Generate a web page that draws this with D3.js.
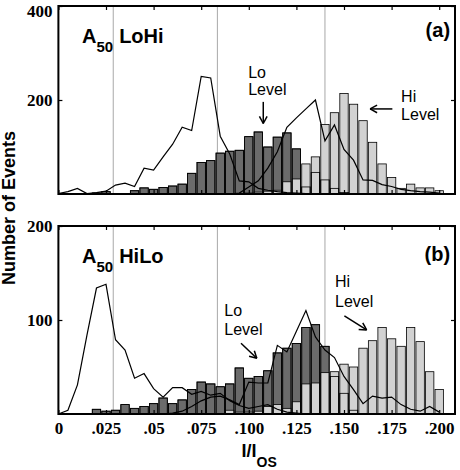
<!DOCTYPE html>
<html><head><meta charset="utf-8">
<script src="https://cdn.jsdelivr.net/npm/d3@7"></script>
<style>body{margin:0;background:#fff} svg{display:block}</style>
</head><body>
<script>
// ---- data ----
const bins = [0.000,0.005,0.010,0.015,0.020,0.025,0.030,0.035,0.040,0.045,
              0.050,0.055,0.060,0.065,0.070,0.075,0.080,0.085,0.090,0.095,
              0.100,0.105,0.110,0.115,0.120,0.125,0.130,0.135,0.140,0.145,
              0.150,0.155,0.160,0.165,0.170,0.175,0.180,0.185,0.190,0.195,0.200];

// panel (a) A50 LoHi
const loHiLoBars  = [0,0,0,0,2,5,0,0,7,13, 10,14,17,21,44,67,71,87,91,93, 122,132,100,121,130,96,15,46,30,12, 3,0,0,0,0,0,0,0,0,0,0];
const loHiHiBars  = [0,0,0,0,0,0,0,0,0,0, 0,0,0,0,0,0,0,0,0,0, 2,4,6,8,26,32,64,79,148,173, 214,191,156,110,64,35,12,21,13,13,7];
const loHiLine1   = [1,5,12,1,3,6,19,23,16,55, 51,79,106,142,135,250,247,123,85,28, 26,12,8,5,3,2,1,0,0,0, 0,0,0,0,0,0,0,0,0,0,0];
const loHiLine2   = [0,0,0,0,0,0,0,0,0,0, 0,0,0,0,0,0,0,0,0,2, 15,28,55,90,142,162,181,200,113,147, 95,72,30,29,20,16,10,7,5,4,2];

// panel (b) A50 HiLo
const hiLoLoBars  = [0,0,0,0,5,3,4,10,6,8, 11,17,11,15,26,34,32,29,32,49, 38,40,46,65,70,75,92,95,72,40, 22,4,0,0,0,0,0,0,0,0,0];
const hiLoHiBars  = [0,0,0,0,0,0,0,0,0,0, 0,0,0,0,0,0,0,0,4,2, 2,3,8,10,6,13,32,33,44,45, 53,50,70,78,92,80,72,92,77,45,26];
const hiLoLine1   = [0,4,31,84,134,138,79,68,38,43, 27,18,28,28,21,24,20,22,14,9, 6,8,10,5,2,1,0,0,0,0, 0,0,0,0,0,0,0,0,0,0,0];
const hiLoLine2   = [0,0,0,0,0,0,0,0,0,0, 0,0,1,3,8,14,18,19,15,10, 34,33,33,73,66,88,110,82,68,60, 40,26,11,19,17,18,10,5,3,8,2];

const refLines    = [0.0288, 0.0835, 0.140];
const xTickValues = [0,0.025,0.05,0.075,0.1,0.125,0.15,0.175,0.2];
const xTickLabels = ["0",".025",".05",".075",".100",".125",".150",".175",".200"];
const aYTicks     = [200,400];
const bYTicks     = [100,200];

// ---- layout ----
const W = 460, H = 470;
const svg = d3.select("body").append("svg").attr("width", W).attr("height", H);
const x = d3.scaleLinear().domain([0, 0.2083]).range([58.4, 455]);
const barW = x(0.0044) - x(0);

const panels = [
  {name:"LoHi", tag:"(a)", yMax:400, top:6, bottom:194, yTicks:aYTicks,
   lo:loHiLoBars, hi:loHiHiBars, lines:[loHiLine1, loHiLine2], showX:false,
   title:{x:0.0124, y:321}, tagPos:{x:0.2057, y:334},
   loText:{x:0.0997, y1:246, y2:210}, loArrow:[0.1076,196,0.1076,150],
   hiText:{x:0.1800, y1:196, y2:157}, hiArrow:[0.1754,181,0.1637,181]},
  {name:"HiLo", tag:"(b)", yMax:200, top:226, bottom:414, yTicks:bYTicks,
   lo:hiLoLoBars, hi:hiLoHiBars, lines:[hiLoLine1, hiLoLine2], showX:true,
   title:{x:0.0124, y:160.6}, tagPos:{x:0.2057, y:162.8},
   loText:{x:0.0871, y1:104, y2:84}, loArrow:[0.0959,75.2,0.1042,59.3],
   hiText:{x:0.1453, y1:134.8, y2:114.1}, hiArrow:[0.1502,104.3,0.1619,89.4]}
];

function arrow(g, x1, y1, x2, y2) {
  g.append("line").attr("x1",x1).attr("y1",y1).attr("x2",x2).attr("y2",y2)
    .attr("stroke","#000").attr("stroke-width",1.5);
  const a = Math.atan2(y2-y1, x2-x1), L = 8, s = 0.5;
  [a+Math.PI-s, a+Math.PI+s].forEach(t=>{
    g.append("line").attr("x1",x2).attr("y1",y2)
      .attr("x2",x2+L*Math.cos(t)).attr("y2",y2+L*Math.sin(t))
      .attr("stroke","#000").attr("stroke-width",1.5);
  });
}

panels.forEach(p => {
  const y = d3.scaleLinear().domain([0, p.yMax]).range([p.bottom, p.top]);
  const g = svg.append("g");

  // reference lines
  g.selectAll(".ref").data(refLines).join("line")
    .attr("x1", d=>x(d)).attr("x2", d=>x(d))
    .attr("y1", p.top).attr("y2", p.bottom)
    .attr("stroke", "#a8a8a8").attr("stroke-width", 1);

  const loData = bins.map((b,i)=>({b, v:p.lo[i]})).filter(d=>d.v>0);
  const hiData = bins.map((b,i)=>({b, v:p.hi[i]})).filter(d=>d.v>0);

  g.selectAll(".lo").data(loData).join("rect")
    .attr("x", d=>x(d.b)-barW/2).attr("width", barW)
    .attr("y", d=>y(d.v)).attr("height", d=>y(0)-y(d.v))
    .attr("fill","#6b6b6b").attr("stroke","#000").attr("stroke-width",0.8);
  g.selectAll(".hi").data(hiData).join("rect")
    .attr("x", d=>x(d.b)-barW/2).attr("width", barW)
    .attr("y", d=>y(d.v)).attr("height", d=>y(0)-y(d.v))
    .attr("fill","#d2d2d2").attr("stroke","#000").attr("stroke-width",0.8);
  g.selectAll(".loOutline").data(loData).join("rect")
    .attr("x", d=>x(d.b)-barW/2).attr("width", barW)
    .attr("y", d=>y(d.v)).attr("height", d=>y(0)-y(d.v))
    .attr("fill","none").attr("stroke","#000").attr("stroke-width",0.8);

  // lines
  const line = d3.line().x((d,i)=>x(bins[i])).y(d=>y(d));
  p.lines.forEach(L=>{
    g.append("path").datum(L).attr("d", line)
      .attr("fill","none").attr("stroke","#000").attr("stroke-width",1.2);
  });

  // axes
  const axL = g.append("g").attr("transform",`translate(${x(0)},0)`)
    .call(d3.axisLeft(y).tickValues(p.yTicks).tickSize(-4).tickPadding(6));
  const axR = g.append("g").attr("transform",`translate(${x.range()[1]},0)`)
    .call(d3.axisRight(y).tickValues(p.yTicks).tickSize(-4).tickFormat(""));
  const axT = g.append("g").attr("transform",`translate(0,${p.top})`)
    .call(d3.axisTop(x).tickValues(xTickValues).tickSize(-4).tickFormat(""));
  const axB = g.append("g").attr("transform",`translate(0,${p.bottom})`)
    .call(d3.axisBottom(x).tickValues(xTickValues).tickSize(-4).tickPadding(8)
      .tickFormat((d,i)=> p.showX ? xTickLabels[i] : ""));
  [axL,axR,axT,axB].forEach(a=>{
    a.select(".domain").remove();
    a.selectAll("line").attr("stroke","#000").attr("stroke-width",1.2);
    a.selectAll("text").attr("font-family","'Liberation Serif', serif")
      .attr("font-weight","bold").attr("font-size",17).attr("fill","#000");
  });
  // keep the top label inside the page
  axL.selectAll(".tick text").filter(d=>d===p.yMax && p.top < 10).attr("dy","0.6em");

  // frame
  g.append("rect").attr("x", x(0)).attr("y", p.top)
    .attr("width", x.range()[1]-x(0)).attr("height", p.bottom-p.top)
    .attr("fill","none").attr("stroke","#000").attr("stroke-width",2);

  // title A50 ...
  const t = g.append("text").attr("x", x(p.title.x)).attr("y", y(p.title.y))
    .attr("font-family","'Liberation Sans', Arial, sans-serif").attr("font-weight","bold")
    .attr("font-size",20);
  t.append("tspan").text("A");
  t.append("tspan").attr("font-size",15).attr("dy",9).text("50");
  t.append("tspan").attr("dy",-9).attr("dx",6).text(p.name);

  g.append("text").attr("x", x(p.tagPos.x)).attr("y", y(p.tagPos.y))
    .attr("text-anchor","end")
    .attr("font-family","'Liberation Sans', Arial, sans-serif").attr("font-weight","bold")
    .attr("font-size",20).text(p.tag);

  const annot = (tx, ty, s) => g.append("text").attr("x", x(tx)).attr("y", y(ty))
    .attr("font-family","'Liberation Sans', Arial, sans-serif").attr("font-size",16).text(s);
  annot(p.loText.x, p.loText.y1, "Lo");
  annot(p.loText.x, p.loText.y2, "Level");
  annot(p.hiText.x, p.hiText.y1, "Hi");
  annot(p.hiText.x, p.hiText.y2, "Level");
  arrow(g, x(p.loArrow[0]), y(p.loArrow[1]), x(p.loArrow[2]), y(p.loArrow[3]));
  arrow(g, x(p.hiArrow[0]), y(p.hiArrow[1]), x(p.hiArrow[2]), y(p.hiArrow[3]));
});

// axis titles
svg.append("text").attr("transform","translate(15,208) rotate(-90)")
  .attr("text-anchor","middle")
  .attr("font-family","'Liberation Sans', Arial, sans-serif").attr("font-weight","bold")
  .attr("font-size",18).text("Number of Events");

const xt = svg.append("text").attr("x", 241.5).attr("y", 456.5)
  .attr("font-family","'Liberation Sans', Arial, sans-serif").attr("font-weight","bold")
  .attr("font-size",18);
xt.append("tspan").text("I/I");
xt.append("tspan").attr("font-size",14).attr("dy",10).text("OS");
</script>
</body></html>
